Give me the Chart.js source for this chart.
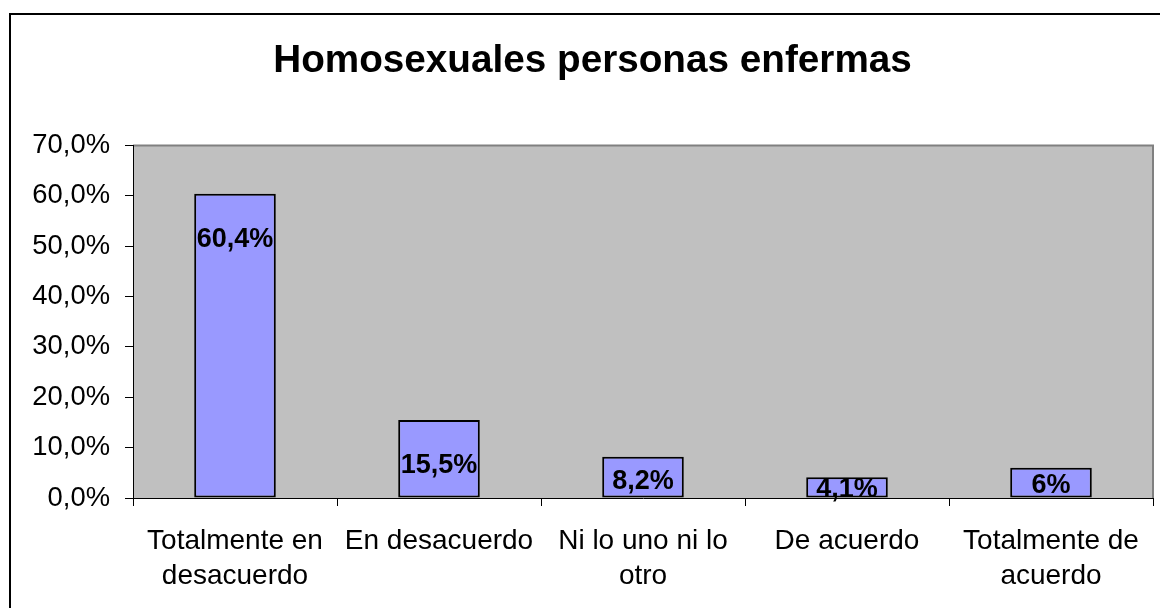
<!DOCTYPE html>
<html lang="es">
<head>
  <meta charset="UTF-8" />
  <title>Homosexuales personas enfermas</title>
  <script src="https://cdn.jsdelivr.net/npm/chart.js"></script>
  <style>
    html, body { margin: 0; padding: 0; background: #fff; overflow: hidden; }
    #wrap {
      position: absolute; left: 9px; top: 13px;
      width: 1163px; height: 620px;
      border-left: 2px solid #000; border-top: 2px solid #000;
    }
  </style>
</head>
<body>
  <div id="wrap"><canvas id="chart" width="1163" height="620"></canvas></div>

  <script>
    const categories = [
      ['Totalmente en', 'desacuerdo'],
      'En desacuerdo',
      ['Ni lo uno ni lo', 'otro'],
      'De acuerdo',
      ['Totalmente de', 'acuerdo']
    ];
    const values = [60.4, 15.5, 8.2, 4.1, 6];
    const valueLabels = ['60,4%', '15,5%', '8,2%', '4,1%', '6%'];
    const yTicks = [0, 10, 20, 30, 40, 50, 60, 70];

    const FONT = "'Liberation Sans', Arial, sans-serif";

    // gray plot area with the gray top/right frame
    const plotBg = {
      id: 'plotBg',
      beforeDraw(chart) {
        const { ctx, chartArea: a } = chart;
        ctx.save();
        ctx.fillStyle = '#c0c0c0';
        ctx.fillRect(a.left, a.top, a.right - a.left, a.bottom - a.top);
        ctx.strokeStyle = '#808080';
        ctx.lineWidth = 2;
        ctx.beginPath();
        ctx.moveTo(a.left, a.top);
        ctx.lineTo(a.right, a.top);
        ctx.lineTo(a.right, a.bottom);
        ctx.stroke();
        ctx.restore();
      }
    };

    // bold value labels inside the bars
    const barLabels = {
      id: 'barLabels',
      afterDatasetsDraw(chart) {
        const { ctx } = chart;
        const meta = chart.getDatasetMeta(0);
        ctx.save();
        ctx.font = 'bold 27px ' + FONT;
        ctx.fillStyle = '#000';
        ctx.textAlign = 'center';
        ctx.textBaseline = 'middle';
        meta.data.forEach((bar, i) => {
          const h = bar.base - bar.y;
          let y = bar.y + Math.min(h * 0.6, 46);
          y = Math.min(y, bar.base - 8);
          ctx.fillText(valueLabels[i], bar.x, y);
        });
        ctx.restore();
      }
    };

    new Chart(document.getElementById('chart'), {
      type: 'bar',
      data: {
        labels: categories,
        datasets: [{
          data: values,
          backgroundColor: '#9999ff',
          borderColor: '#000',
          borderWidth: 2,
          borderSkipped: false,
          categoryPercentage: 1,
          barPercentage: 0.4
        }]
      },
      options: {
        responsive: false,
        animation: false,
        layout: { padding: { left: 21, right: 21, top: 0, bottom: 0 } },
        plugins: {
          legend: { display: false },
          tooltip: { enabled: false },
          title: {
            display: true,
            text: 'Homosexuales personas enfermas',
            color: '#000',
            font: { family: FONT, size: 38.7, weight: 'bold', lineHeight: 1.2 },
            padding: { top: 23, bottom: 61 }
          }
        },
        scales: {
          y: {
            min: 0,
            max: 70,
            afterBuildTicks(scale) { scale.ticks = yTicks.map(v => ({ value: v })); },
            afterFit(scale) { scale.width = 101; },
            border: { display: true, color: '#000', width: 1 },
            grid: { drawOnChartArea: false, drawTicks: true, tickLength: 8, color: '#000' },
            ticks: {
              color: '#000',
              padding: 15,
              font: { family: FONT, size: 27.4 },
              callback: v => v.toFixed(1).replace('.', ',') + '%'
            }
          },
          x: {
            afterFit(scale) { scale.height = 137; },
            border: { display: true, color: '#000', width: 1 },
            grid: { offset: true, drawOnChartArea: false, drawTicks: true, tickLength: 8, color: '#000' },
            ticks: {
              color: '#000',
              padding: 18,
              autoSkip: false,
              maxRotation: 0,
              font: { family: FONT, size: 28, lineHeight: 1.25 }
            }
          }
        }
      },
      plugins: [plotBg, barLabels]
    });
  </script>
</body>
</html>
